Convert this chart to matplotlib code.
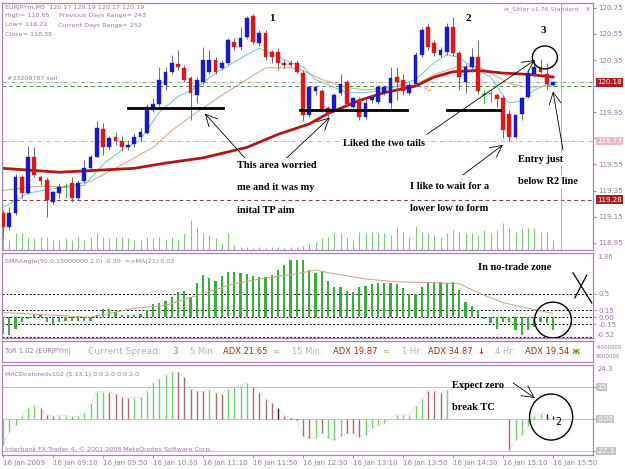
import matplotlib
matplotlib.use("Agg")
import matplotlib.pyplot as plt
from matplotlib.patches import Ellipse
import numpy as np

# EURJPYm M5, 16 Jan 2009 08:30 .. 15:50
opens = [119.18, 119.07, 119.18, 119.45, 119.33, 119.61, 119.45, 119.43, 119.26, 119.33,
         119.38, 119.41, 119.29, 119.42, 119.52, 119.61, 119.82, 119.68, 119.76, 119.73,
         119.68, 119.71, 119.76, 119.79, 119.97, 120.01, 120.16, 120.26, 120.32, 120.29,
         120.21, 120.08, 120.18, 120.26, 120.35, 120.29, 120.33, 120.49, 120.45, 120.53,
         120.69, 120.48, 120.56, 120.41, 120.41, 120.33, 120.33, 120.33, 120.25, 119.93,
         120.11, 120.11, 119.98, 119.97, 120.10, 120.18, 119.99, 120.04, 119.91, 120.04,
         120.03, 120.10, 120.02, 120.22, 120.20, 120.10, 120.17, 120.39, 120.60, 120.48,
         120.39, 120.41, 120.60, 120.40, 120.18, 120.30, 120.37, 120.08, 120.09, 120.08,
         120.06, 119.94, 119.76, 119.94, 120.07, 120.24, 120.29, 120.24, 120.16]
highs = [119.20, 119.22, 119.48, 119.47, 119.69, 119.68, 119.47, 119.45, 119.35, 119.41,
         119.41, 119.45, 119.43, 119.58, 119.62, 119.88, 119.87, 119.77, 119.80, 119.77,
         119.74, 119.79, 119.83, 120.01, 120.06, 120.30, 120.30, 120.39, 120.43, 120.31,
         120.23, 120.22, 120.45, 120.43, 120.37, 120.35, 120.52, 120.52, 120.60, 120.69,
         120.70, 120.58, 120.58, 120.43, 120.44, 120.35, 120.35, 120.35, 120.27, 120.15,
         120.14, 120.13, 120.00, 120.10, 120.24, 120.20, 120.07, 120.07, 120.05, 120.08,
         120.16, 120.16, 120.30, 120.30, 120.24, 120.18, 120.41, 120.60, 120.63, 120.50,
         120.45, 120.63, 120.68, 120.42, 120.32, 120.44, 120.50, 120.12, 120.13, 120.10,
         120.08, 119.97, 119.94, 120.07, 120.27, 120.35, 120.36, 120.33, 120.19]
lows = [118.99, 119.05, 119.16, 119.29, 119.32, 119.45, 119.39, 119.15, 119.25, 119.29,
        119.29, 119.26, 119.28, 119.41, 119.51, 119.61, 119.62, 119.66, 119.70, 119.65,
        119.66, 119.68, 119.72, 119.78, 119.95, 120.00, 120.12, 120.24, 120.27, 120.18,
        119.89, 120.02, 120.17, 120.24, 120.24, 120.27, 120.31, 120.43, 120.43, 120.51,
        120.47, 120.46, 120.35, 120.33, 120.27, 120.29, 120.30, 120.25, 119.88, 119.91,
        120.08, 119.95, 119.91, 119.95, 120.08, 119.99, 119.97, 119.89, 119.90, 120.02,
        120.01, 120.08, 119.97, 120.04, 120.08, 120.08, 120.15, 120.37, 120.43, 120.38,
        120.37, 120.39, 120.38, 120.12, 120.10, 120.26, 120.09, 120.02, 120.03, 119.99,
        119.75, 119.72, 119.75, 119.89, 120.06, 120.22, 120.25, 120.12, 120.15]
closes = [119.07, 119.18, 119.45, 119.33, 119.61, 119.47, 119.42, 119.28, 119.34, 119.38,
          119.38, 119.29, 119.41, 119.52, 119.61, 119.83, 119.68, 119.75, 119.73, 119.68,
          119.70, 119.76, 119.80, 119.99, 120.01, 120.20, 120.26, 120.33, 120.30, 120.20,
          120.10, 120.20, 120.35, 120.35, 120.26, 120.33, 120.50, 120.45, 120.52, 120.67,
          120.49, 120.56, 120.37, 120.37, 120.33, 120.31, 120.31, 120.26, 119.93, 120.14,
          120.14, 119.97, 119.94, 120.08, 120.17, 120.01, 120.06, 119.91, 120.02, 120.07,
          120.14, 120.14, 120.21, 120.18, 120.11, 120.16, 120.39, 120.58, 120.45, 120.40,
          120.43, 120.60, 120.40, 120.22, 120.30, 120.37, 120.11, 120.08, 120.09, 120.05,
          119.81, 119.76, 119.93, 120.06, 120.25, 120.30, 120.26, 120.17, 120.18]
# tick volume, drawn as bar height in screen pixels of the price panel
volumes = [13, 10, 17, 17, 13, 12, 13, 13, 10, 10,
           12, 10, 13, 10, 13, 17, 13, 12, 13, 13,
           12, 10, 10, 13, 12, 13, 10, 13, 10, 17,
           30, 23, 17, 15, 12, 7, 17, 5, 3, 3,
           2, 3, 2, 3, 3, 2, 3, 3, 4, 6,
           8, 12, 13, 17, 17, 13, 10, 18, 17, 18,
           17, 17, 15, 23, 18, 13, 24, 18, 17, 15,
           13, 17, 20, 18, 17, 17, 15, 20, 17, 20,
           27, 22, 18, 22, 22, 22, 18, 18, 10]

# moving averages on the price panel (read at a handful of bars)
ma_slow_idx = [0, 9, 21, 26, 32, 39, 44, 49, 52, 57, 61, 66, 69, 72, 76, 80, 84, 88]
ma_slow_val = [119.52, 119.49, 119.52, 119.56, 119.60, 119.68, 119.78, 119.86, 119.94,
               120.04, 120.10, 120.15, 120.22, 120.26, 120.27, 120.25, 120.24, 120.22]
ma_fast_idx = [0, 4, 9, 13, 16, 19, 22, 25, 28, 31, 34, 39, 41, 43, 46, 48, 50, 53, 55,
               58, 61, 66, 69, 71, 73, 75, 78, 80, 81, 83, 85, 87, 88]
ma_fast_val = [119.22, 119.33, 119.37, 119.39, 119.55, 119.66, 119.74, 119.95, 120.07,
               120.14, 120.25, 120.39, 120.44, 120.40, 120.33, 120.30, 120.20, 120.14,
               120.10, 120.10, 120.12, 120.20, 120.33, 120.39, 120.37, 120.30, 120.22,
               120.08, 120.02, 120.04, 120.12, 120.16, 120.17]
ma_mid_idx = [0, 5, 10, 14, 18, 24, 27, 31, 35, 39, 42, 46, 48, 51, 55, 58, 62, 66, 69,
              73, 76, 78, 81, 84, 87, 88]
ma_mid_val = [119.35, 119.38, 119.38, 119.42, 119.52, 119.68, 119.81, 119.95, 120.08,
              120.20, 120.29, 120.29, 120.27, 120.20, 120.14, 120.12, 120.14, 120.16,
              120.24, 120.30, 120.30, 120.25, 120.17, 120.14, 120.15, 120.16]

price_ticks = [118.95, 119.15, 119.35, 119.55, 119.75, 119.95, 120.15, 120.35, 120.55, 120.75]
level_prices = [120.18, 119.73, 119.28]
level_labels = ["120.18", "119.73", "119.28"]

# SMAAngle histogram and its MA(21)
sma_angle = [-0.35, -0.38, -0.24, -0.10, -0.03, 0.06, 0.07, -0.10, -0.17, -0.10,
             -0.08, -0.08, -0.08, -0.08, -0.08, 0.04, 0.18, 0.18, 0.10, 0.04,
             0.04, 0.04, 0.07, 0.15, 0.28, 0.30, 0.35, 0.42, 0.54, 0.56,
             0.43, 0.72, 0.89, 0.82, 0.76, 0.87, 0.96, 0.96, 0.94, 0.92,
             0.87, 0.86, 0.85, 0.90, 0.99, 1.11, 1.22, 1.22, 1.22, 1.01,
             0.94, 0.98, 0.77, 0.65, 0.65, 0.56, 0.53, 0.65, 0.67, 0.70,
             0.72, 0.73, 0.72, 0.70, 0.62, 0.49, 0.49, 0.65, 0.74, 0.74,
             0.74, 0.72, 0.75, 0.57, 0.32, 0.23, 0.16, -0.03, -0.13, -0.24,
             -0.10, -0.10, -0.27, -0.38, -0.27, -0.20, -0.10, -0.13, -0.27]
sma_ma_idx = [0, 14, 21, 26, 31, 37, 42, 47, 50, 53, 58, 63, 69, 73, 76, 80, 84, 88]
sma_ma_val = [0.10, 0.00, 0.19, 0.25, 0.46, 0.71, 0.83, 0.92, 1.00, 0.92, 0.81, 0.75,
              0.73, 0.71, 0.52, 0.31, 0.19, 0.08]
sma_levels = [0.5, 0.15, 0.0, -0.15, -0.42]

# MACDcolored histogram (nan = not drawn), colour code per bar: g up, r down, k flat
nan = np.nan
macd_hist = [-12.4, -6.0, -2.7, 1.3, 5.2, 6.3, 5.2, 2.0, 1.2, 1.6,
             1.6, 1.0, 1.3, 2.8, 6.8, 12.7, 12.8, 12.8, 11.6, 10.5,
             10.0, 10.0, 10.2, 13.2, 17.0, 18.7, 20.6, 22.0, 21.9, 19.5,
             14.0, 12.9, 12.9, 13.7, 12.4, 11.6, 14.0, 14.8, 15.6, 17.0,
             14.8, 12.4, 9.2, 7.6, 5.2, 1.6, 0.3, -0.3, -8.2, -9.0,
             -9.0, -6.6, -9.0, -9.8, -8.2, -6.6, -6.6, -8.5, -7.4, -4.3,
             -2.7, -1.9, 0.2, 2.0, 2.0, 1.6, 6.0, 9.2, 13.2, 13.2,
             12.0, 13.5, nan, nan, nan, nan, nan, nan, nan, nan,
             nan, -14.6, -9.8, -7.5, -3.5, 1.3, 2.5, 2.5, 1.6]
macd_code = ("ggggggrrrg" "grgggggrrr" "rgggggggrr" "rrrgrrgggg" "rrrrkrkkrr"
             "grgggrrrgg" "ggggggggrr" "rg--------" "-rgggggkk")
macd_levels = [15, 0, -15]

time_labels = ["16 Jan 2009", "16 Jan 09:10", "16 Jan 09:50", "16 Jan 10:30",
               "16 Jan 11:10", "16 Jan 11:50", "16 Jan 12:30", "16 Jan 13:10",
               "16 Jan 13:50", "16 Jan 14:30", "16 Jan 15:10", "16 Jan 15:50"]

# ---------------------------------------------------------------------------
W, H = 625, 469
PURPLE = "#9a77a6"
FRAME = "#a585b3"
SERIF = dict(family="Liberation Serif", fontweight="bold")


def rect(x0, y0, x1, y1):
    return [x0 / W, 1 - y1 / H, (x1 - x0) / W, (y1 - y0) / H]


def px(x, y):
    return x / W, 1 - y / H


def frame(ax):
    for s in ax.spines.values():
        s.set_color(FRAME)
        s.set_linewidth(0.9)
    ax.yaxis.tick_right()
    ax.tick_params(axis="y", colors=PURPLE, labelsize=5, length=2, width=0.6, pad=2)
    ax.tick_params(axis="x", bottom=False, labelbottom=False)


idx = np.arange(len(closes))
o, h, l, c = map(np.array, (opens, highs, lows, closes))

fig = plt.figure(figsize=(W / 100, H / 100), dpi=100)
fig.patch.set_facecolor("white")

ax = fig.add_axes(rect(2, 3, 593, 250))
ax_sma = fig.add_axes(rect(2, 253, 593, 338), sharex=ax)
ax_tor = fig.add_axes(rect(2, 341, 593, 362))
ax_macd = fig.add_axes(rect(2, 365, 593, 455), sharex=ax)

# ---- price panel ----
frame(ax)
ax.set_xlim(-0.16, 94.4)
ax.set_ylim(118.894, 120.787)
ax.set_yticks(price_ticks)
# ticks hidden behind the level boxes keep their mark but lose the text
ax.set_yticklabels(["" if min(abs(t - p) for p in level_prices) < 0.04 else f"{t:.2f}"
                    for t in price_ticks])

ax.vlines(idx, 0, np.array(volumes) / 247, transform=ax.get_xaxis_transform(),
          colors="#82c882", lw=0.8, zorder=1)

ax.axhline(level_prices[0], color="#9a9a9a", ls=(0, (4, 2, 1, 2)), lw=0.7, zorder=1)
ax.axhline(120.15, color="#3c963c", ls=(0, (4, 3)), lw=0.7, zorder=1)
ax.axhline(level_prices[1], color="#bfaeb0", ls=(0, (4, 2, 1, 2)), lw=0.7, zorder=1)
ax.axhline(level_prices[2], color="#a03030", ls=(0, (4, 3)), lw=0.7, zorder=1)
ax.axvline(89.3, color="#c4accd", lw=0.7, zorder=1)

ax.plot(ma_mid_idx, ma_mid_val, color="#d4a27e", lw=0.7, zorder=2)
ax.plot(ma_fast_idx, ma_fast_val, color="#6cc8cc", lw=0.7, zorder=2)
ax.plot(ma_slow_idx, ma_slow_val, color="#b31515", lw=2.0, zorder=2)

body_col = np.where(c > o, "#1a1ac4", np.where(c < o, "#d81a1a", "#3cb43c"))
wick_col = np.where(c == o, "#3cb43c", "#6e6e6e")
ax.vlines(idx, l, h, colors=wick_col, lw=0.7, zorder=3)
ax.bar(idx, np.maximum(np.abs(c - o), 0.006), bottom=np.minimum(o, c), width=0.62,
       color=body_col, edgecolor=body_col, lw=0.3, zorder=4)

for p, lab, fc in zip(level_prices, level_labels, ["#a82020", "#e7b9c9", "#a82020"]):
    ax.text(1.007, p, lab, transform=ax.get_yaxis_transform(), va="center", ha="left",
            fontsize=5, color="white", clip_on=False, zorder=10,
            bbox=dict(boxstyle="square,pad=0.2", fc=fc, ec="none"))

# hand-drawn notes on the price panel
ax.text(67.2, 120.13, "R2", fontsize=5, color="#d4a27e", va="center", zorder=5)
for x0, x1, y in [(20.0, 35.2, 119.98), (47.5, 64.6, 119.97), (71.0, 79.5, 119.97)]:
    ax.plot([x0, x1], [y, y], color="black", lw=2.0, zorder=6)
ax.add_patch(Ellipse((86.7, 120.37), 4.0, 0.176, fill=False, ec="black", lw=1.0, zorder=7))
for t, x, y in [("1", 43.0, 120.67), ("2", 74.4, 120.67), ("3", 86.4, 120.58)]:
    ax.text(x, y, t, ha="center", va="center", fontsize=8, **SERIF)

box = dict(fc="white", ec="none", pad=1.2)
notes = [("This area worried", 37.4, 119.54), ("me and it was my", 37.4, 119.37),
         ("inital TP aim", 37.4, 119.20), ("Liked the two tails", 54.4, 119.71),
         ("I like to wait for a", 65.1, 119.38), ("lower low to form", 65.1, 119.21),
         ("Entry just", 82.4, 119.59), ("below R2 line", 82.4, 119.42)]
for t, x, y in notes:
    ax.text(x, y, t, ha="left", va="center", fontsize=7.5, bbox=box, zorder=8,
            clip_on=False, **SERIF)

arrow = dict(arrowstyle="->,head_length=0.7,head_width=0.35", color="black", lw=0.6,
             shrinkA=0, shrinkB=0, mutation_scale=12)
for tail, head in [((38.7, 119.60), (32.3, 119.94)), ((45.4, 119.60), (52.3, 119.91)),
                   ((67.8, 119.78), (85.1, 120.35)), ((73.6, 119.47), (80.0, 119.70)),
                   ((89.6, 119.66), (88.0, 120.11))]:
    ax.annotate("", xy=head, xytext=tail, arrowprops=arrow, zorder=9)

# ---- SMAAngle panel ----
frame(ax_sma)
ax_sma.set_ylim(-0.44, 1.36)
ax_sma.bar(idx, sma_angle, width=0.34, color="#3cae3c", zorder=2)
ax_sma.plot(sma_ma_idx, sma_ma_val, color="#c9a184", lw=0.7, zorder=3)
for lv in sma_levels:
    ax_sma.axhline(lv, color="black", ls=(0, (2, 2)), lw=0.7, zorder=1)
ax_sma.set_yticks(sma_levels[:4])
ax_sma.set_yticklabels(["0.5", "0.15", "0.00", "-0.15"])
tr = ax_sma.get_yaxis_transform()
ax_sma.text(1.007, 1.33, "1.36", transform=tr, fontsize=5, color=PURPLE, va="top", clip_on=False)
ax_sma.text(1.007, -0.43, "-0.52", transform=tr, fontsize=5, color=PURPLE, va="bottom", clip_on=False)
ax_sma.text(81.9, 1.06, "In no-trade zone", ha="center", va="center", fontsize=7.5, **SERIF)
ax_sma.plot([91.2, 94.2], [0.94, 0.30], color="black", lw=0.9)
ax_sma.plot([93.4, 91.5], [0.89, 0.41], color="black", lw=0.9)
ax_sma.add_patch(Ellipse((88.0, -0.06), 5.9, 0.76, fill=False, ec="black", lw=1.0, zorder=5))

# ---- ToR strip ----
for s in ax_tor.spines.values():
    s.set_color(FRAME)
    s.set_linewidth(0.9)
ax_tor.set_xticks([])
ax_tor.set_yticks([])

# ---- MACD panel ----
frame(ax_macd)
ax_macd.set_ylim(-16.9, 25.3)
for lv in macd_levels:
    ax_macd.axhline(lv, color="#c4c4c4", lw=0.7, zorder=1)
cmap = {"g": "#74cf74", "r": "#a86a6a", "k": "#3a1a1a", "-": "none"}
ax_macd.vlines(idx, 0, np.nan_to_num(macd_hist), colors=[cmap[k] for k in macd_code],
               lw=1.0, zorder=2)
ax_macd.plot(idx, macd_hist, ls=(0, (1, 1.5)), color="#bdbdbd", lw=0.6, zorder=3)
ax_macd.set_yticks(macd_levels)
ax_macd.set_yticklabels([])
tr = ax_macd.get_yaxis_transform()
ax_macd.text(1.007, 25.0, "24.3", transform=tr, fontsize=5, color=PURPLE, va="top", clip_on=False)
for v, lab in [(15, "15"), (0, "0.00"), (-15, "-27.3")]:
    ax_macd.text(1.007, v, lab, transform=tr, fontsize=5, color="white", va="center",
                 clip_on=False, zorder=10,
                 bbox=dict(boxstyle="square,pad=0.15", fc="#c6c6c6", ec="none"))
ax_macd.set_xticks(np.arange(0, len(closes), 8))
ax_macd.set_xticklabels(time_labels)
ax_macd.tick_params(axis="x", bottom=True, labelbottom=True, colors=PURPLE, labelsize=5,
                    length=2, width=0.6, pad=1.5)
for lbl in ax_macd.get_xticklabels():
    lbl.set_ha("left")

ax_macd.text(71.8, 15.9, "Expect zero", ha="left", va="center", fontsize=7.5, **SERIF)
ax_macd.text(71.8, 5.6, "break TC", ha="left", va="center", fontsize=7.5, **SERIF)
ax_macd.annotate("", xy=(85.1, 9.8), xytext=(81.6, 16.9), arrowprops=arrow)
ax_macd.add_patch(Ellipse((87.7, 0.9), 6.9, 21.6, fill=False, ec="black", lw=1.0, zorder=5))
ax_macd.text(88.8, -1.4, "2", ha="center", va="center", fontsize=7, color="black")

# ---- panel captions (MT4 style) ----
small = dict(fontsize=4.6, color=PURPLE, va="center", ha="left")
fig.text(*px(5, 7), "EURJPYm,M5  120.17 120.19 120.17 120.19", **small)
fig.text(*px(5, 16), "High= 118.65", **small)
fig.text(*px(59, 16), "Previous Days Range= 243", **small)
fig.text(*px(5, 25), "Low= 116.22", **small)
fig.text(*px(58, 25), "Current Days Range= 252", **small)
fig.text(*px(5, 34), "Close= 118.38", **small)
fig.text(*px(7, 79), "#33209787 sell", **small)
fig.text(*px(578, 9), "is_Sitter v1.76 Standard", fontsize=4.4, color=PURPLE, va="center",
         ha="right")
fig.text(*px(586, 9), "x", fontsize=5, color=PURPLE, va="center", ha="left")
fig.text(*px(5, 261), "SMAAngle(50.0,15000000.2.0) -0.30  =>MA(21) 0.03", **small)
fig.text(*px(5, 374), "MACDcoloredv102 (5,13,1) 0.0 2.0 0.0 2.0", **small)
fig.text(*px(5, 449), "Interbank FX Trader 4, \u00a9 2001-2008 MetaQuotes Software Corp.", **small)

tor_y = 351
fig.text(*px(5, tor_y), "ToR 1.02 (EURJPYm)", fontsize=4.8, color=PURPLE, va="center")
grey = "#aab2c4"
adx = "#9a3412"
fig.text(*px(88, tor_y), "Current Spread:", fontsize=6.6, color=grey, va="center")
fig.text(*px(172, tor_y), "3", fontsize=6.4, color="#4cb84c", va="center")
for x, t, col in [(190, "5 Min:", grey), (223, "ADX 21.65", adx), (272, "\u2248", "#c8a040"),
                  (292, "15 Min:", grey), (333, "ADX 19.87", adx), (382, "\u2248", "#c8a040"),
                  (402, "1 Hr:", grey), (428, "ADX 34.87", adx), (477, "\u2193", "#e02020"),
                  (495, "4 Hr:", grey), (525, "ADX 19.54", adx), (572, "\u0436", "#5aa02a")]:
    fig.text(*px(x, tor_y), t, fontsize=6.0, color=col, va="center",
             fontweight="bold" if t in ("\u2193", "\u0436") else "normal")
fig.text(*px(596, 347), "-9000000", fontsize=3.9, color=PURPLE, va="center")
fig.text(*px(596, 357), "9000000", fontsize=3.9, color=PURPLE, va="center")

fig.savefig("out.png", dpi=100, facecolor="white")
